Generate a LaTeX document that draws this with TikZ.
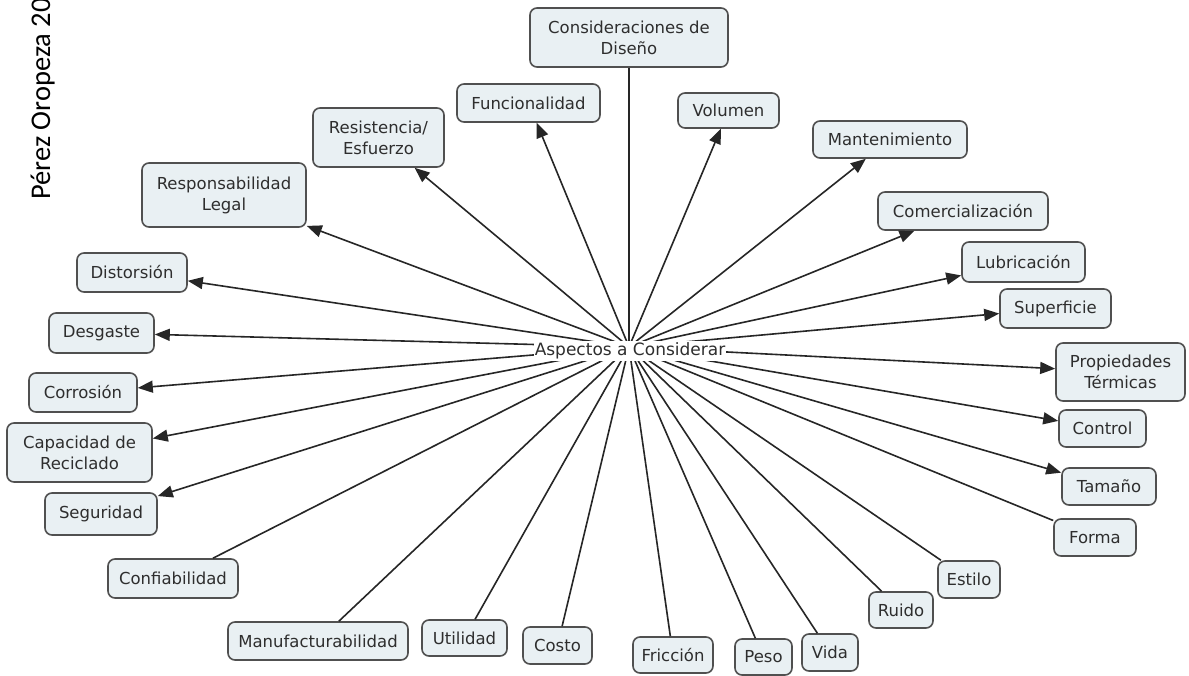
\documentclass[tikz,border=0pt]{standalone}
\usepackage{fontspec}
\setmainfont{DejaVu Sans}
\newfontfamily\sidefont{Carlito}
\usetikzlibrary{arrows.meta}
\definecolor{boxfill}{HTML}{E9F0F3}
\definecolor{boxline}{HTML}{505050}
\definecolor{txt}{HTML}{2E2E2E}
\definecolor{edge}{HTML}{262626}
\begin{document}
\begin{tikzpicture}[x=1pt,y=-1pt,
  concept/.style={draw=boxline, line width=1.6pt, fill=boxfill, rounded corners=7pt,
    text=txt, font=\fontsize{16.5}{21}\selectfont, align=center, inner sep=2pt},
  sz/.style 2 args={minimum width=#1pt, minimum height=#2pt},
  link/.style={draw=edge, line width=1.6pt},
  arr/.style={link, -{Triangle[length=15pt,width=12pt]}},
]
\useasboundingbox[fill=white] (0,0) rectangle (1189,675);

\begin{scope}
\clip (0,0) rectangle (1189,675);
\node[rotate=90, anchor=base west, inner sep=0pt, font=\sidefont\fontsize{28.5}{30}\selectfont, text=black] (auth) at (50,200) {Pérez Oropeza 20};
\end{scope}

% nodes
\node[concept, sz={198}{59}] (dis) at (629,37.5) {Consideraciones de\\Diseño};
\node[concept, sz={143}{38}] (fun) at (528.5,103) {Funcionalidad};
\node[concept, sz={101}{35}] (vol) at (728.5,110.5) {Volumen};
\node[concept, sz={131}{59}] (res) at (378.5,137.5) {Resistencia/\\Esfuerzo};
\node[concept, sz={164}{64}] (rl) at (224,195) {Responsabilidad\\Legal};
\node[concept, sz={154}{37}] (man) at (890,139.5) {Mantenimiento};
\node[concept, sz={170}{38}] (com) at (963,211) {Comercialización};
\node[concept, sz={123}{40}] (lub) at (1023.5,262) {Lubricación};
\node[concept, sz={111}{39}] (sup) at (1055.5,308.5) {Superficie};
\node[concept, sz={110}{39}] (dist) at (132,272.5) {Distorsión};
\node[concept, sz={105}{40}] (des) at (101.5,333) {Desgaste};
\node[concept, sz={108}{39}] (cor) at (83,392.5) {Corrosión};
\node[concept, sz={145}{59}] (cap) at (79.5,452.5) {Capacidad de\\Reciclado};
\node[concept, sz={112}{42}] (seg) at (101,514) {Seguridad};
\node[concept, sz={129}{58}] (prop) at (1120.5,372) {Propiedades\\Térmicas};
\node[concept, sz={87}{37}] (ctl) at (1102.5,428.5) {Control};
\node[concept, sz={94}{37}] (tam) at (1109,486.5) {Tamaño};
\node[concept, sz={82}{37}] (for) at (1095,537.5) {Forma};
\node[concept, sz={62}{37}] (est) at (969,579.5) {Estilo};
\node[concept, sz={64}{36}] (rui) at (901,610) {Ruido};
\node[concept, sz={56}{37}] (vida) at (830,652.5) {Vida};
\node[concept, sz={57}{36}] (peso) at (763.5,657) {Peso};
\node[concept, sz={80}{36}] (fri) at (673,655) {Fricción};
\node[concept, sz={69}{37}] (cos) at (557.5,645.5) {Costo};
\node[concept, sz={85}{36}] (uti) at (464.5,638) {Utilidad};
\node[concept, sz={180}{38}] (manu) at (318,641) {Manufacturabilidad};
\node[concept, sz={130}{39}] (conf) at (173,578.5) {Confiabilidad};

\coordinate (ctr) at (629,347);

% connectors
\draw[link] (dis) -- (ctr);
\foreach \t in {fun,vol,res,rl,man,com,lub,sup,dist,des,cor,cap,seg,prop,ctl,tam}
  \draw[arr] (ctr) -- (\t);
\foreach \t in {for,est,rui,vida,peso,fri,cos,uti,manu,conf}
  \draw[link] (ctr) -- (\t);

\node[fill=white, text=txt, font=\fontsize{17}{21}\selectfont, inner xsep=1pt, inner ysep=2pt] (asp) at (630,351) {Aspectos a Considerar};
\end{tikzpicture}
\end{document}
